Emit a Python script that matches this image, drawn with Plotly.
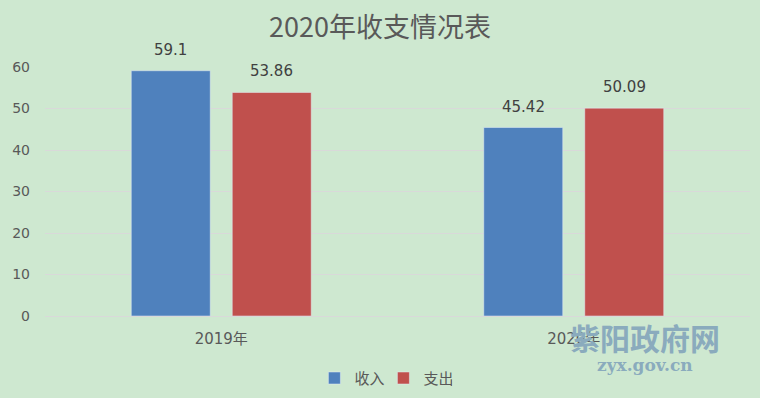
import plotly.graph_objects as go

categories = ["2019年", "2020年"]
income = [59.1, 45.42]
expense = [53.86, 50.09]
income_labels = ["59.1", "45.42"]
expense_labels = ["53.86", "50.09"]
y_ticks = [0, 10, 20, 30, 40, 50, 60]

FONT = "DejaVu Sans, Noto Sans CJK SC, sans-serif"
CJK = "Noto Sans CJK SC, sans-serif"
BG = "#cee8d0"
BAR_OFFSET = 50.5  # px offset of each bar from its category centre

fig = go.Figure()
fig.add_trace(go.Bar(name="收入", x=categories, y=income, marker_color="#4f81bd"))
fig.add_trace(go.Bar(name="支出", x=categories, y=expense, marker_color="#c0504d"))

for series, labels, shift in ((income, income_labels, -BAR_OFFSET),
                              (expense, expense_labels, BAR_OFFSET)):
    for cat, val, lab in zip(categories, series, labels):
        fig.add_annotation(x=cat, y=val, text=lab, showarrow=False, xref="x", yref="y",
                           xanchor="center", yanchor="middle", xshift=shift, yshift=21,
                           font=dict(size=15, color="#404040", family=FONT))

fig.update_layout(
    width=760, height=398,
    paper_bgcolor=BG, plot_bgcolor=BG,
    font=dict(family=FONT, color="#595959"),
    title=dict(text="2020年收支情况表", x=0.5, xanchor="center", y=0.93, yanchor="middle",
               font=dict(size=27, color="#595959", family=CJK)),
    barmode="group", bargap=0.427, bargroupgap=0.218,
    margin=dict(l=45, r=10, t=67, b=82, autoexpand=False),
    showlegend=True,
    legend=dict(orientation="h", x=0.48, xanchor="center", y=-0.25, yanchor="middle",
                font=dict(size=15, color="#595959", family=CJK), bgcolor="rgba(0,0,0,0)",
                itemwidth=30, entrywidth=24, entrywidthmode="pixels", traceorder="normal"),
    xaxis=dict(showgrid=False, showline=True, linecolor="#d9d9d9", linewidth=1,
               ticks="", tickfont=dict(size=15, color="#595959", family=FONT),
               ticklabelstandoff=9),
    yaxis=dict(range=[0, 60], tickvals=y_ticks, showgrid=True, gridcolor="#d9d9d9",
               gridwidth=1, zeroline=False, ticks="", showline=False,
               tickfont=dict(size=14, color="#595959", family=FONT),
               ticklabelstandoff=14),
)

fig.add_annotation(text="<b>紫阳政府网</b>", xref="paper", yref="paper", x=0.851, y=-0.084,
                   xanchor="center", yanchor="middle", showarrow=False,
                   font=dict(size=30, color="#8aabbd", family=CJK))
fig.add_annotation(text="<b>zyx.gov.cn</b>", xref="paper", yref="paper", x=0.851, y=-0.195,
                   xanchor="center", yanchor="middle", showarrow=False,
                   font=dict(size=17, color="#8aabbd", family="DejaVu Serif, serif"))

fig.write_html("out.html", config={"displayModeBar": False},
               post_script="document.body.style.margin='0';")
